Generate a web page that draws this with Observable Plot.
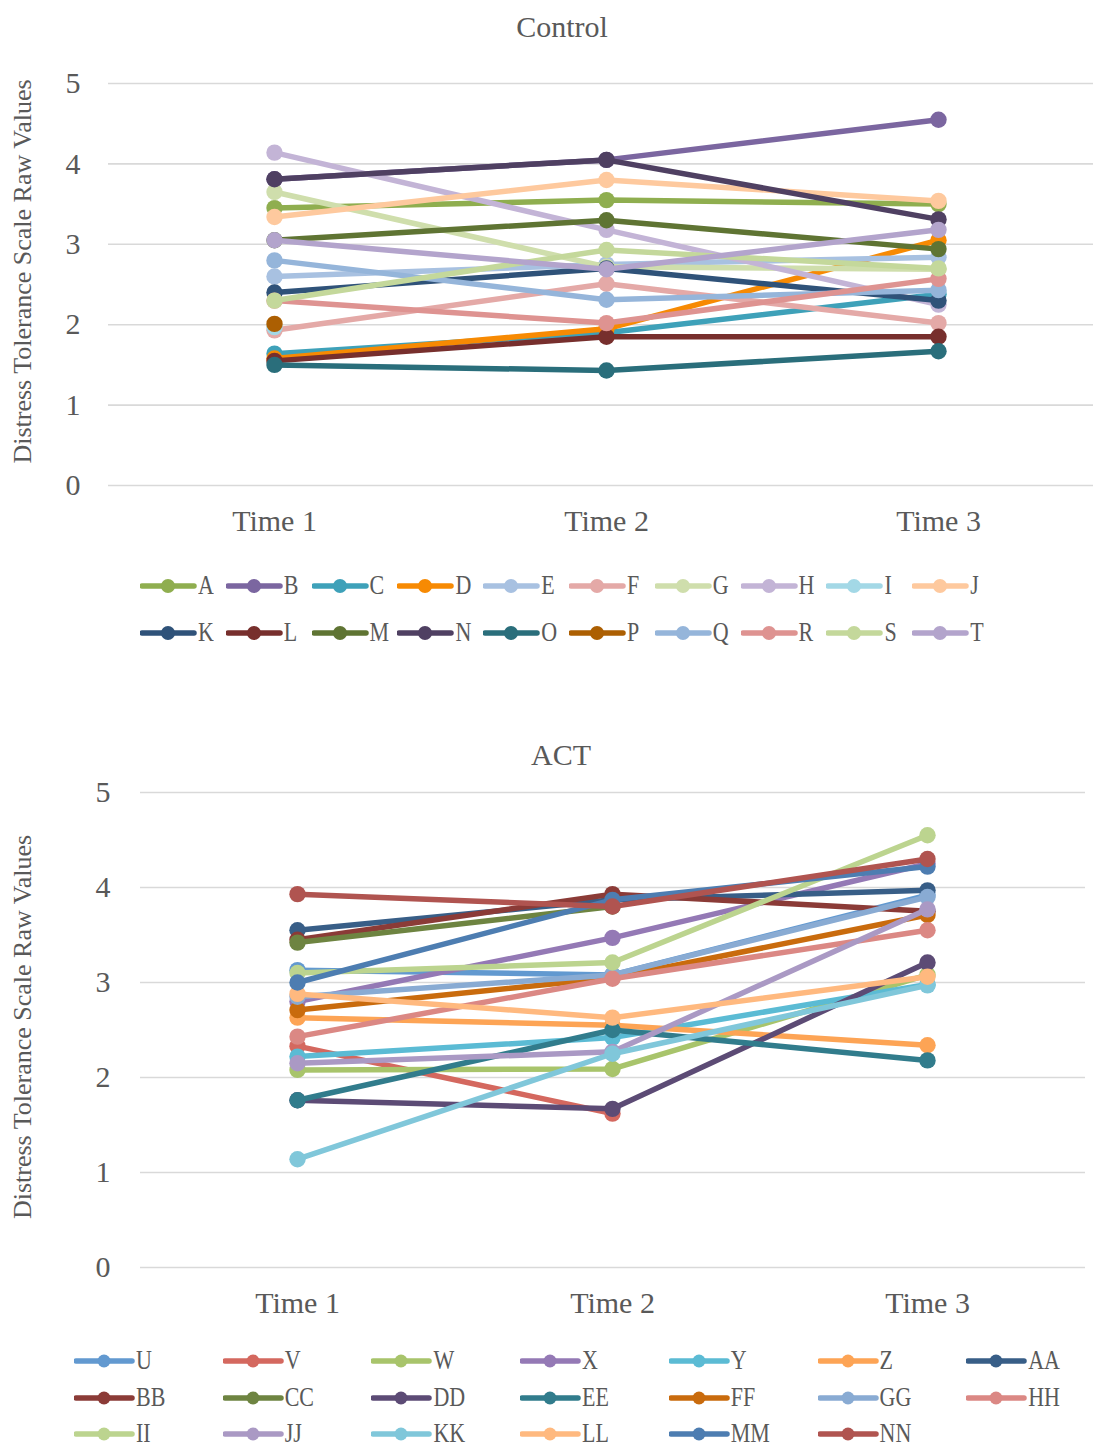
<!DOCTYPE html>
<html>
<head>
<meta charset="utf-8">
<script src="https://cdn.jsdelivr.net/npm/d3@7"></script>
<script src="https://cdn.jsdelivr.net/npm/@observablehq/plot@0.6"></script>
<style>
  html, body { margin: 0; padding: 0; background: #fff; }
  body { width: 1093px; height: 1448px; position: relative; overflow: hidden; font-family: "Liberation Serif", "Times New Roman", serif; }
  svg text { font-family: "Liberation Serif", "Times New Roman", serif !important; }
  .abs { position: absolute; }
  .title { position: absolute; width: 400px; text-align: center; font-size: 30px; color: #595959; line-height: 30px; }
  .leg { position: absolute; height: 24px; display: flex; align-items: center; font-size: 22px; line-height: 22px; color: #595959; white-space: nowrap; }
  .leg svg { display: block; }
  .leg span { display: inline-block; transform: scaleY(1.2); transform-origin: 50% 50%; }
</style>
</head>
<body>
<div id="root"></div>
<script>
// ---------- data ----------
const times = ["Time 1", "Time 2", "Time 3"];
const yTicks = [0, 1, 2, 3, 4, 5];
const yLabel = "Distress Tolerance Scale Raw Values";

const controlNames = ["A","B","C","D","E","F","G","H","I","J","K","L","M","N","O","P","Q","R","S","T"];
const controlTime1 = [3.45,3.81,1.64,1.58,2.60,1.93,3.65,4.14,1.97,3.34,2.40,1.55,3.05,3.81,1.50,2.01,2.80,2.30,2.30,3.05];
const controlTime2 = [3.55,4.05,1.90,1.95,2.75,2.51,2.72,3.18,null,3.80,2.70,1.85,3.30,4.05,1.43,null,2.31,2.02,2.93,2.69];
const controlTime3 = [3.50,4.55,2.38,3.05,2.84,2.02,2.69,2.25,null,3.54,2.30,1.85,2.94,3.31,1.67,null,2.43,2.57,2.70,3.18];
const controlColors = ["#8fae4f","#7b66a0","#3ea1b9","#f78a03","#a8c1e1","#e4a9a7","#cfdeac","#c3b4d6","#a3d8e6","#fec99e",
                       "#2f5279","#772f2d","#5f7433","#4f4062","#2a6e7b","#ac5f02","#95b5da","#de9391","#c4d89b","#b3a4cc"];

const actNames = ["U","V","W","X","Y","Z","AA","BB","CC","DD","EE","FF","GG","HH","II","JJ","KK","LL","MM","NN"];
const actTime1 = [3.13,2.33,2.08,2.80,2.22,2.63,3.55,3.45,3.42,1.76,1.76,2.71,2.85,2.43,3.10,2.15,1.14,2.88,3.00,3.93];
const actTime2 = [3.08,1.62,2.09,3.47,2.42,2.55,3.87,3.93,3.80,1.67,2.50,3.05,3.08,3.04,3.21,2.27,2.25,2.63,3.87,3.80];
const actTime3 = [3.92,null,3.08,4.25,2.98,2.34,3.97,3.75,null,3.21,2.18,3.71,3.90,3.55,4.55,3.77,2.97,3.06,4.22,4.30];
const actColors = ["#6299d0","#d4685f","#a8c46b","#9479b5","#5bbbd4","#fda455","#385e87","#8b3b37","#6e8441","#5c4b75",
                   "#317c8c","#c96b0d","#89abd3","#db8884","#bcd48f","#aa99c4","#80c7da","#ffb97f","#4d7db1","#b05450"];

// ---------- helpers ----------
const root = document.getElementById("root");
const textColor = "#595959";
const serif = "'Liberation Serif', 'Times New Roman', serif";

function toRows(names, t1, t2, t3) {
  const rows = [];
  names.forEach((n, i) => {
    [t1[i], t2[i], t3[i]].forEach((v, j) => rows.push({name: n, time: times[j], value: v}));
  });
  return rows;
}

function chart({names, t1, t2, t3, colors, top, height, marginTop, marginBottom, marginLeft, marginRight, xRange, labelOffset, labelDy, tickPad}) {
  const rows = toRows(names, t1, t2, t3);
  const marks = [
    Plot.ruleY(yTicks, {stroke: "#d9d9d9", strokeWidth: 1.6}),
    Plot.axisY(yTicks, {tickSize: 0, tickPadding: tickPad, fontSize: 30, fill: textColor, label: null, tickFormat: d => String(d), fontFamily: serif}),
    Plot.axisX(times, {tickSize: 0, tickPadding: 24, fontSize: 30, fill: textColor, label: null, fontFamily: serif}),
    Plot.text([yLabel], {frameAnchor: "left", rotate: -90, dx: -labelOffset, dy: labelDy, fontSize: 26, fill: textColor, textAnchor: "middle", lineAnchor: "middle", fontFamily: serif})
  ];
  names.forEach(n => {
    const r = rows.filter(d => d.name === n);
    marks.push(Plot.line(r, {x: "time", y: "value", stroke: "name", strokeWidth: 5.5, strokeLinejoin: "round", strokeLinecap: "round"}));
    marks.push(Plot.dot(r.filter(d => d.value != null), {x: "time", y: "value", fill: "name", r: 8.2, stroke: "none"}));
  });
  const svg = Plot.plot({
    width: 1093, height, marginTop, marginBottom, marginLeft, marginRight,
    style: {background: "transparent", fontFamily: serif, overflow: "visible"},
    x: {type: "point", domain: times, range: xRange, padding: 0, axis: null},
    y: {domain: [0, 5], axis: null},
    color: {domain: names, range: colors},
    marks
  });
  const wrap = document.createElement("div");
  wrap.className = "abs";
  wrap.style.left = "0px";
  wrap.style.top = top + "px";
  wrap.appendChild(svg);
  root.appendChild(wrap);
}

function title(text, cx, cy) {
  const d = document.createElement("div");
  d.className = "title";
  d.style.left = (cx - 200) + "px";
  d.style.top = (cy - 15) + "px";
  d.textContent = text;
  root.appendChild(d);
}

function legend(names, colors, x0, pitch, perRow, rowYs, lineW, dotR) {
  names.forEach((n, i) => {
    const row = Math.floor(i / perRow), col = i % perRow;
    const d = document.createElement("div");
    d.className = "leg";
    d.style.left = (x0 + col * pitch) + "px";
    d.style.top = (rowYs[row] - 12) + "px";
    const s = d3.create("svg").attr("width", lineW + 6).attr("height", 24);
    s.append("line").attr("x1", 2).attr("x2", lineW + 2).attr("y1", 12).attr("y2", 12)
      .attr("stroke", colors[i]).attr("stroke-width", 5.5).attr("stroke-linecap", "round");
    s.append("circle").attr("cx", 2 + lineW / 2).attr("cy", 12).attr("r", dotR).attr("fill", colors[i]);
    d.appendChild(s.node());
    const sp = document.createElement("span");
    sp.textContent = n;
    d.appendChild(sp);
    root.appendChild(d);
  });
}

// ---------- Control ----------
title("Control", 562, 27);
chart({names: controlNames, t1: controlTime1, t2: controlTime2, t3: controlTime3, colors: controlColors,
  top: 50, height: 510, marginTop: 33, marginBottom: 75, marginLeft: 108, marginRight: 0,
  xRange: [273, 938], labelOffset: 86, labelDy: -13, tickPad: 28});
legend(controlNames, controlColors, 140, 85.8, 10, [586, 633], 52, 7);

// ---------- ACT ----------
title("ACT", 561, 755);
chart({names: actNames, t1: actTime1, t2: actTime2, t3: actTime3, colors: actColors,
  top: 770, height: 565, marginTop: 22, marginBottom: 68, marginLeft: 140, marginRight: 8,
  xRange: [296, 927], labelOffset: 118, labelDy: -3, tickPad: 30});
legend(actNames, actColors, 74, 148.7, 7, [1361, 1398, 1434], 56, 6.5);
</script>
</body>
</html>
